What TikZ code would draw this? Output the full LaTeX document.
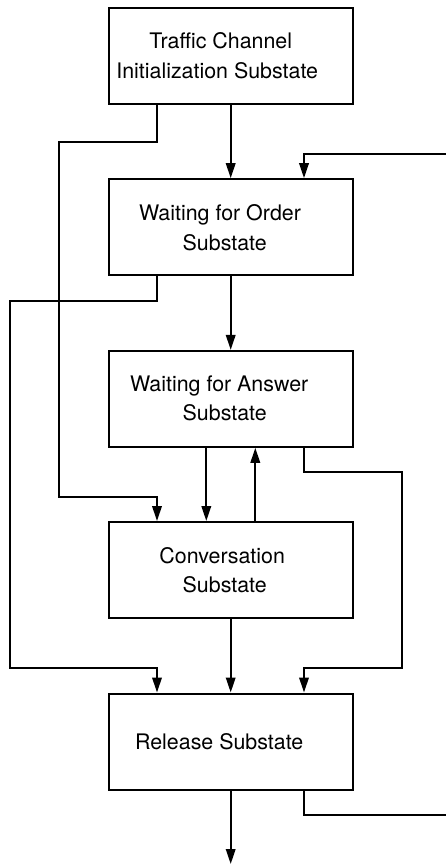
\documentclass[tikz,border=0pt]{standalone}
\usepackage{fontspec}
\setmainfont{TeX Gyre Heros}
\usetikzlibrary{arrows.meta}
\begin{document}
\begin{tikzpicture}[x=1pt,y=-1pt,
  box/.style={draw, line width=2pt, minimum width=244pt, minimum height=96pt, inner sep=0pt},
  lbl/.style={anchor=base, inner sep=0pt, font=\fontsize{21.4}{29}\selectfont},
  conn/.style={line width=2pt},
  arr/.style={conn, -{Triangle[length=15pt,width=9.5pt]}}]
\useasboundingbox (0,0) rectangle (446,864);
\node[box] (b1) at (230.7,55.85) {};
\node[box] (b2) at (230.7,227.15) {};
\node[box] (b3) at (230.7,398.85) {};
\node[box] (b4) at (230.7,570) {};
\node[box] (b5) at (230.7,741.5) {};
\node[lbl] (t1a) at (220.8,49) {Traffic Channel};
\node[lbl] (t1b) at (217.2,78.3) {Initialization Substate};
\node[lbl] (t2a) at (220,220) {Waiting for Order};
\node[lbl] (t2b) at (224.7,250) {Substate};
\node[lbl] (t3a) at (219.2,391.7) {Waiting for Answer};
\node[lbl] (t3b) at (224.7,420.7) {Substate};
\node[lbl] (t4a) at (222.2,563.3) {Conversation};
\node[lbl] (t4b) at (224.7,592.7) {Substate};
\node[lbl] (t5) at (219.2,749.3) {Release Substate};
\coordinate (xl) at (157,0);
\coordinate (xr) at (304,0);
\coordinate (xd) at (206.3,0);
\coordinate (xu) at (255.3,0);
\coordinate (k1) at (59,141.7);
\coordinate (k2) at (59,497);
\coordinate (k3) at (9.7,301);
\coordinate (k4) at (9.7,667.7);
\coordinate (k5) at (402.3,472.3);
\coordinate (k6) at (402.3,667.7);
\coordinate (entry) at (446,154);
\coordinate (exit) at (446,815.3);
\coordinate (tail) at (230.7,864);
\draw[arr] (b1) -- (b2);
\draw[arr] (b1.south -| xl) |- (k1) -- (k2) -| (b4.north -| xl);
\draw[arr] (entry) -| (b2.north -| xr);
\draw[arr] (b2) -- (b3);
\draw[arr] (b2.south -| xl) |- (k3) -- (k4) -| (b5.north -| xl);
\draw[arr] (b3.south -| xd) -- (b4.north -| xd);
\draw[arr] (b4.north -| xu) -- (b3.south -| xu);
\draw[arr] (b3.south -| xr) |- (k5) -- (k6) -| (b5.north -| xr);
\draw[arr] (b4) -- (b5);
\draw[conn] (b5.south -| xr) |- (exit);
\draw[arr] (b5) -- (tail);
\end{tikzpicture}
\end{document}
